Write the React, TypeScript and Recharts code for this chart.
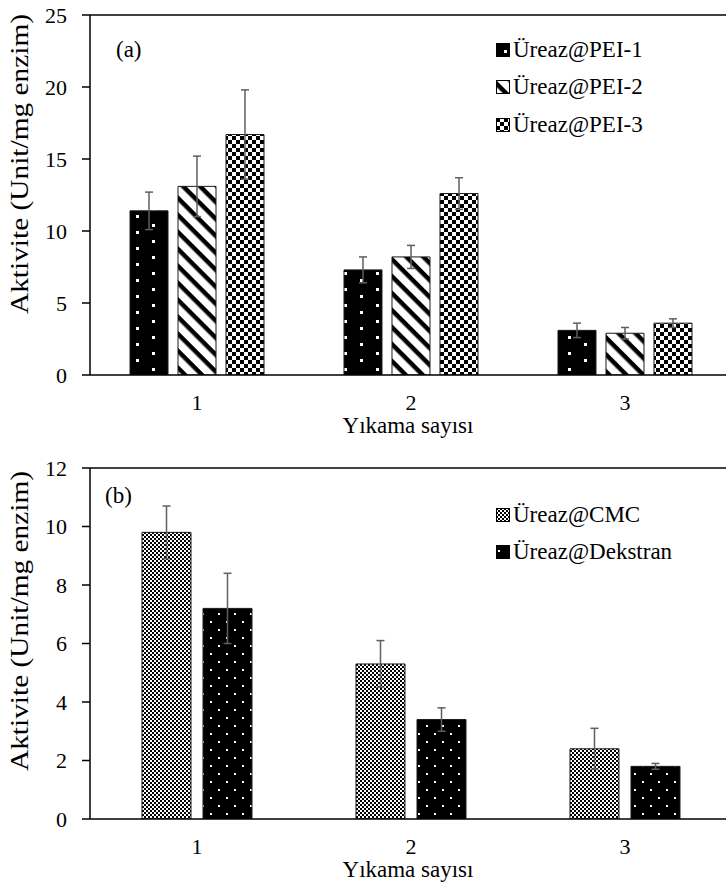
import React from 'react';
import { BarChart, Bar, XAxis, YAxis, ErrorBar, Legend, ReferenceLine } from 'recharts';

const FONT = "'Liberation Serif', 'Times New Roman', serif";

// x categories (number of washes)
const washCounts = [1, 2, 3];

// panel (a) - PEI series
const pei1 = [11.4, 7.3, 3.1];
const pei1Err = [1.3, 0.9, 0.5];
const pei2 = [13.1, 8.2, 2.9];
const pei2Err = [2.1, 0.8, 0.4];
const pei3 = [16.7, 12.6, 3.6];
const pei3Err = [3.1, 1.1, 0.3];

// panel (b) - CMC / Dekstran
const cmc = [9.8, 5.3, 2.4];
const cmcErr = [0.9, 0.8, 0.7];
const dekstran = [7.2, 3.4, 1.8];
const dekstranErr = [1.2, 0.4, 0.1];

const ticksA = [0, 5, 10, 15, 20, 25];
const ticksB = [0, 2, 4, 6, 8, 10, 12];

const yTitle = 'Aktivite (Unit/mg enzim)';
const xTitle = 'Yıkama sayısı';

// plot runs off the right edge like the original figure
const X_MAX = 3.472;

interface Series {
  key: string;
  name: string;
  values: number[];
  errors: number[];
  pattern: string;
}

const seriesA: Series[] = [
  { key: 'pei1', name: 'Üreaz@PEI-1', values: pei1, errors: pei1Err, pattern: 'a-dots' },
  { key: 'pei2', name: 'Üreaz@PEI-2', values: pei2, errors: pei2Err, pattern: 'a-stripes' },
  { key: 'pei3', name: 'Üreaz@PEI-3', values: pei3, errors: pei3Err, pattern: 'a-checker' },
];

const seriesB: Series[] = [
  { key: 'cmc', name: 'Üreaz@CMC', values: cmc, errors: cmcErr, pattern: 'b-fine' },
  { key: 'dek', name: 'Üreaz@Dekstran', values: dekstran, errors: dekstranErr, pattern: 'b-dots' },
];

const defsA = (
  <defs>
    <pattern id="a-dots" patternUnits="userSpaceOnUse" width={32} height={16}>
      <rect width={32} height={16} fill="#000" />
      <rect x={8} y={7} width={3} height={3} fill="#fff" />
      <rect x={24} y={0} width={3} height={3} fill="#fff" />
    </pattern>
    <pattern id="a-stripes" patternUnits="userSpaceOnUse" width={12} height={12} patternTransform="rotate(45)">
      <rect width={12} height={12} fill="#fff" />
      <rect width={12} height={4.5} fill="#000" />
    </pattern>
    <pattern id="a-checker" patternUnits="userSpaceOnUse" width={8} height={8}>
      <rect width={8} height={8} fill="#fff" />
      <rect width={4} height={4} fill="#000" />
      <rect x={4} y={4} width={4} height={4} fill="#000" />
    </pattern>
  </defs>
);

const defsB = (
  <defs>
    <pattern id="b-fine" patternUnits="userSpaceOnUse" width={4} height={4}>
      <rect width={4} height={4} fill="#fff" />
      <rect width={2} height={2} fill="#000" />
      <rect x={2} y={2} width={2} height={2} fill="#000" />
    </pattern>
    <pattern id="b-dots" patternUnits="userSpaceOnUse" width={16} height={16}>
      <rect width={16} height={16} fill="#000" />
      <rect x={2} y={5} width={2} height={2} fill="#fff" />
      <rect x={10} y={13} width={2} height={2} fill="#fff" />
    </pattern>
  </defs>
);

function LegendBox({ series }: { series: Series[] }) {
  return (
    <div style={{ fontFamily: FONT, fontSize: 23, color: '#000' }}>
      {series.map((s) => (
        <div key={s.key} style={{ display: 'flex', alignItems: 'center', height: 37.5, whiteSpace: 'nowrap' }}>
          <svg width={14} height={14} style={{ marginRight: 3 }}>
            <rect x={0.5} y={0.5} width={13} height={13} fill={`url(#${s.pattern})`} stroke="#000" />
          </svg>
          <span>{s.name}</span>
        </div>
      ))}
    </div>
  );
}

interface PanelProps {
  height: number;
  top: number;
  bottom: number;
  yMax: number;
  ticks: number[];
  series: Series[];
  defs: React.ReactNode;
  tag: string;
  tagX: number;
  tagY: number;
  legendTop: number;
  barSize: number;
  barGap: number;
  titleY: number;
  xTitleY: number;
}

function Panel(p: PanelProps) {
  const data = washCounts.map((x, i) => {
    const row: Record<string, number> = { x };
    p.series.forEach((s) => {
      row[s.key] = s.values[i];
      row[s.key + 'Err'] = s.errors[i];
    });
    return row;
  });

  const axisStyle = { stroke: '#000', strokeWidth: 1.5 };
  const tickStyle = { fill: '#000', fontSize: 22, fontFamily: FONT };

  return (
    <BarChart
      width={726}
      height={p.height}
      data={data}
      margin={{ top: p.top, right: 0, bottom: 0, left: 30 }}
      barSize={p.barSize}
      barGap={p.barGap}
    >
      {p.defs}
      <XAxis
        type="number"
        dataKey="x"
        domain={[0.5, X_MAX]}
        allowDataOverflow
        ticks={washCounts}
        interval={0}
        height={p.bottom}
        tickLine={false}
        tickSize={0}
        tickMargin={19}
        axisLine={axisStyle}
        tick={tickStyle}
        label={{
          content: () => (
            <text x={408} y={p.xTitleY} textAnchor="middle" fontSize={23} fontFamily={FONT} fill="#000">
              {xTitle}
            </text>
          ),
        }}
      />
      <YAxis
        domain={[0, p.yMax]}
        allowDataOverflow
        ticks={p.ticks}
        interval={0}
        width={60}
        tickSize={8}
        tickMargin={15}
        tickLine={axisStyle}
        axisLine={axisStyle}
        tick={tickStyle}
        label={{
          content: () => (
            <text
              x={28}
              y={p.titleY}
              transform={`rotate(-90 28 ${p.titleY})`}
              textAnchor="middle"
              fontSize={26}
              fontFamily={FONT}
              fill="#000"
              textLength={300}
              lengthAdjust="spacingAndGlyphs"
            >
              {yTitle}
            </text>
          ),
        }}
      />
      <ReferenceLine
        y={p.yMax}
        stroke="#000"
        strokeWidth={1.5}
        label={{
          content: () => (
            <text x={p.tagX} y={p.tagY} fontSize={23} fontFamily={FONT} fill="#000">
              {p.tag}
            </text>
          ),
        }}
      />
      <Legend
        layout="horizontal"
        verticalAlign="middle"
        align="center"
        wrapperStyle={{ left: 496, top: p.legendTop, width: 220, height: 'auto' }}
        content={() => <LegendBox series={p.series} />}
      />
      {p.series.map((s) => (
        <Bar
          key={s.key}
          dataKey={s.key}
          name={s.name}
          fill={`url(#${s.pattern})`}
          stroke="#1a1a1a"
          strokeWidth={1}
          isAnimationActive={false}
        >
          <ErrorBar
            dataKey={s.key + 'Err'}
            direction="y"
            width={4}
            stroke="#5f5f5f"
            strokeWidth={1.5}
            isAnimationActive={false}
          />
        </Bar>
      ))}
    </BarChart>
  );
}

export default function App() {
  return (
    <div style={{ position: 'absolute', left: 0, top: 0, width: 726, height: 885, background: '#fff' }}>
      <Panel
        height={440}
        top={15}
        bottom={65}
        yMax={25}
        ticks={ticksA}
        series={seriesA}
        defs={defsA}
        tag="(a)"
        tagX={116}
        tagY={57}
        legendTop={31}
        barSize={38}
        barGap={10}
        titleY={164}
        xTitleY={433}
      />
      <Panel
        height={445}
        top={28}
        bottom={66}
        yMax={12}
        ticks={ticksB}
        series={seriesB}
        defs={defsB}
        tag="(b)"
        tagX={105}
        tagY={63}
        legendTop={56}
        barSize={49}
        barGap={12}
        titleY={181}
        xTitleY={437}
      />
    </div>
  );
}
